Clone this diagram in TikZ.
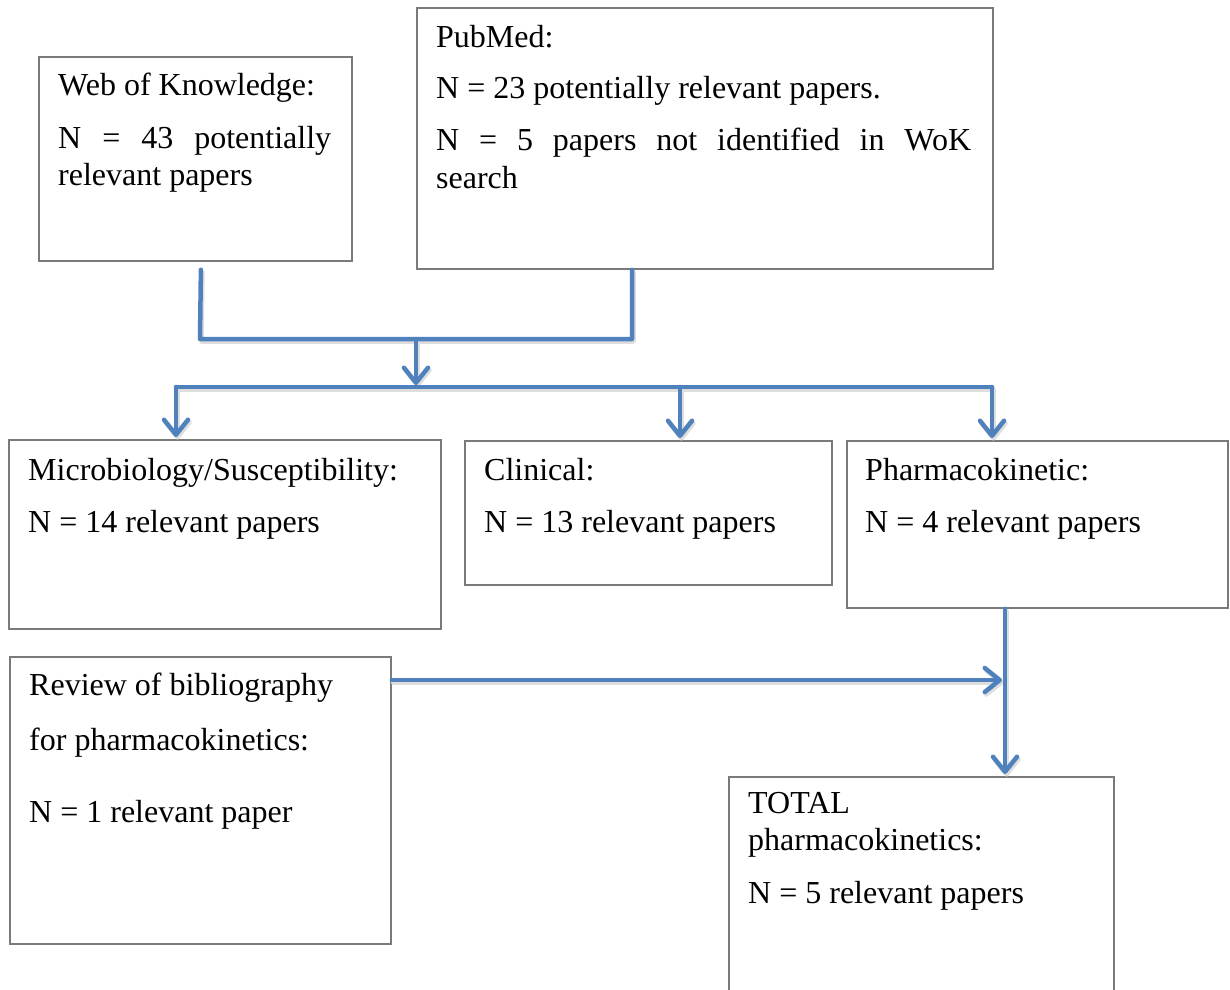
\documentclass[tikz,border=0pt]{standalone}
\usepackage{fontspec}
\setmainfont{Liberation Serif}
\usetikzlibrary{arrows.meta,calc}
\definecolor{linkblue}{HTML}{4F81BD}
\definecolor{boxgray}{HTML}{7A7A7A}
\begin{document}
\begin{tikzpicture}[x=1pt,y=-1pt,
  box/.style={draw=boxgray, line width=1.8pt, inner sep=0pt, anchor=north west},
  txt/.style={anchor=base west, inner sep=0pt, font=\fontsize{32}{37}\selectfont},
  conn/.style={draw=linkblue, line width=4.5pt, line cap=round, line join=round},
  shade/.style={draw=black!13, line width=4.5pt, line cap=round, line join=round},
  tip/.style={-{Straight Barb[length=15pt,width=24pt,round]}}]
\useasboundingbox (0,0) rectangle (1230,989);
% boxes
\node[box, minimum width=313pt, minimum height=204pt] (wok) at (38,56) {};
\node[box, minimum width=576pt, minimum height=261pt] (pub) at (416,7) {};
\node[box, minimum width=432pt, minimum height=189pt] (micro) at (8,439) {};
\node[box, minimum width=367pt, minimum height=144pt] (clin) at (464,440) {};
\node[box, minimum width=381pt, minimum height=167pt] (pharm) at (846,440) {};
\node[box, minimum width=381pt, minimum height=287pt] (rev) at (9,656) {};
\node[box, minimum width=385pt, minimum height=240pt] (total) at (728,776) {};
% junction coordinates
\coordinate (a1) at ($(wok.south)+(5.5,8)$);
\coordinate (a2) at (200,339);
\coordinate (b1) at (pub.south -| 632,0);
\coordinate (b2) at (632,339);
\coordinate (c1) at (416,339);
\coordinate (c2) at (416,385);
\coordinate (d1) at (176,387);
\coordinate (d2) at (680,387);
\coordinate (d3) at (992,387);
\coordinate (p1) at (pharm.south -| 1005,0);
\coordinate (p2) at (1005,680);
\coordinate (r1) at (rev.east |- p2);
% shadows
\begin{scope}[transform canvas={shift={(1.5pt,-2.5pt)}}]
\draw[shade] (a1) -- (a2) -- (b2) -- (b1);
\draw[shade,tip] (c1) -- (c2);
\draw[shade] (d1) -- (d3);
\draw[shade,tip] (d1) -- ([yshift=2pt]d1 |- micro.north);
\draw[shade,tip] (d2) -- ([yshift=2pt]d2 |- clin.north);
\draw[shade,tip] (d3) -- ([yshift=2pt]d3 |- pharm.north);
\draw[shade,tip] (r1) -- ([xshift=-3pt]p2);
\draw[shade,tip] (p1) -- ([yshift=2pt]p1 |- total.north);
\end{scope}
% connectors
\draw[conn] (a1) -- (a2) -- (b2) -- (b1);
\draw[conn,tip] (c1) -- (c2);
\draw[conn] (d1) -- (d3);
\draw[conn,tip] (d1) -- ([yshift=2pt]d1 |- micro.north);
\draw[conn,tip] (d2) -- ([yshift=2pt]d2 |- clin.north);
\draw[conn,tip] (d3) -- ([yshift=2pt]d3 |- pharm.north);
\draw[conn,tip] (r1) -- ([xshift=-3pt]p2);
\draw[conn,tip] (p1) -- ([yshift=2pt]p1 |- total.north);
% texts
\node[txt] (t1) at (58,95) {Web of Knowledge:};
\node[txt] (t2) at (58,148) {\makebox[273pt][s]{N = 43 potentially}};
\node[txt] (t3) at (58,185) {relevant papers};
\node[txt] (t4) at (436,47) {PubMed:};
\node[txt] (t5) at (436,98) {N = 23 potentially relevant papers.};
\node[txt] (t6) at (436,150) {\makebox[535pt][s]{N = 5 papers not identified in WoK}};
\node[txt] (t7) at (436,188) {search};
\node[txt] (t8) at (28,480) {Microbiology/Susceptibility:};
\node[txt] (t9) at (28,532) {N = 14 relevant papers};
\node[txt] (t10) at (484,480) {Clinical:};
\node[txt] (t11) at (484,532) {N = 13 relevant papers};
\node[txt] (t12) at (865,480) {Pharmacokinetic:};
\node[txt] (t13) at (865,532) {N = 4 relevant papers};
\node[txt] (t14) at (29,695) {Review of bibliography};
\node[txt] (t15) at (29,750) {for pharmacokinetics:};
\node[txt] (t16) at (29,822) {N = 1 relevant paper};
\node[txt] (t17) at (748,813) {TOTAL};
\node[txt] (t18) at (748,850) {pharmacokinetics:};
\node[txt] (t19) at (748,903) {N = 5 relevant papers};
\end{tikzpicture}
\end{document}
